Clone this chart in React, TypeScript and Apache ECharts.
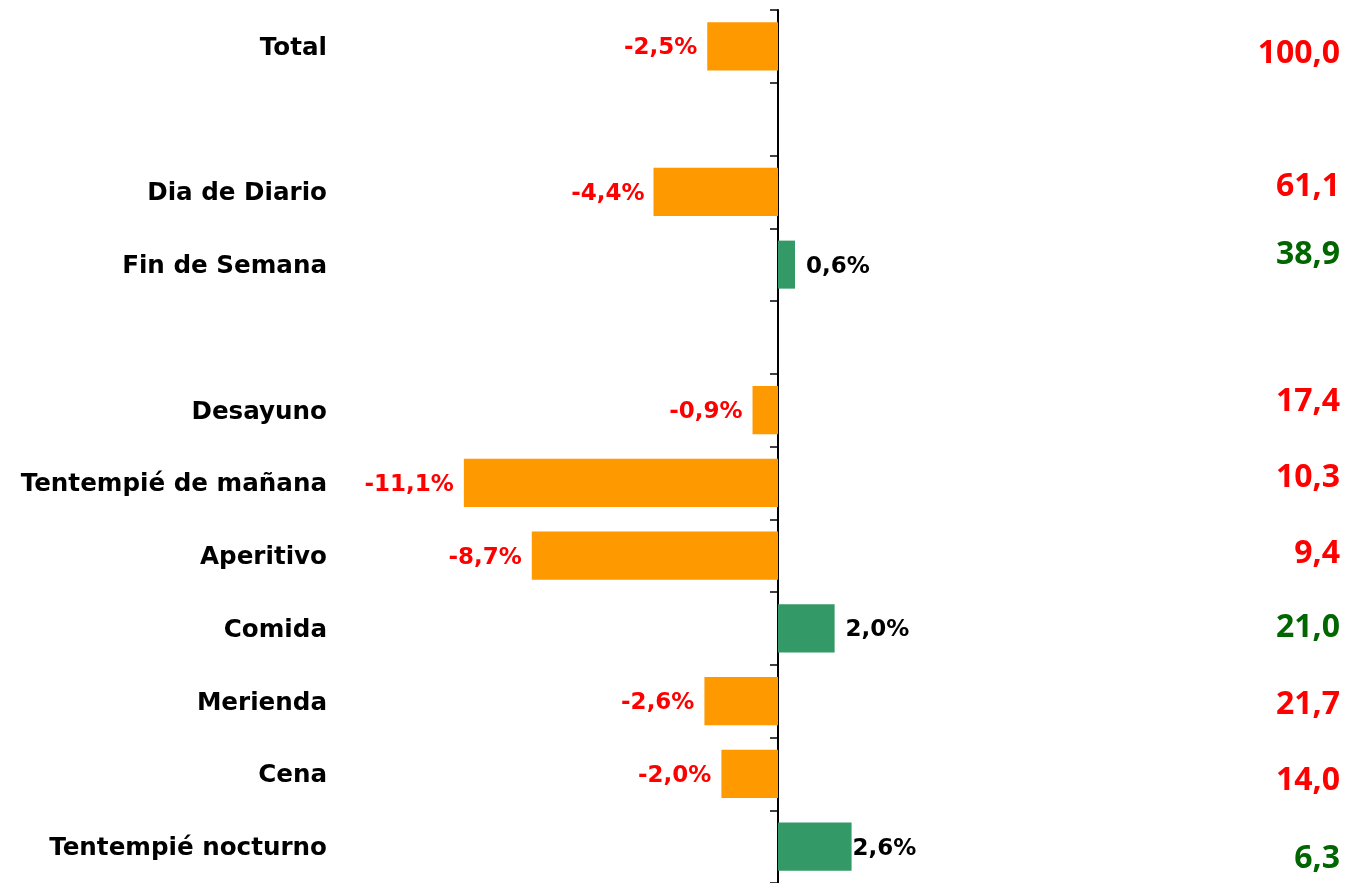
import React, { useEffect, useRef } from "react";
import * as echarts from "echarts";

const categories = [
  "Total",
  "",
  "Dia de Diario",
  "Fin de Semana",
  " ",
  "Desayuno",
  "Tentempié de mañana",
  "Aperitivo",
  "Comida",
  "Merienda",
  "Cena",
  "Tentempié nocturno",
];
const changes: (number | null)[] = [-2.5, null, -4.4, 0.6, null, -0.9, -11.1, -8.7, 2.0, -2.6, -2.0, 2.6];
const shares: (number | null)[] = [100.0, null, 61.1, 38.9, null, 17.4, 10.3, 9.4, 21.0, 21.7, 14.0, 6.3];

// vertical nudges (px) of the share labels, as placed in the original layout
const shareLabelShift = [4, 0, -8, -13, 0, -12, -8, -5, -4, 0, 4, 9];
// horizontal distance of bar labels
const barLabelDistance = [10, 0, 9, 11, 0, 10, 10, 10, 11, 10, 10, 1];

const fmt = (v: number) => v.toFixed(1).replace(".", ",");

export default function App() {
  const ref = useRef<HTMLDivElement>(null);
  useEffect(() => {
    if (!ref.current) return;
    const chart = echarts.init(ref.current, undefined, { renderer: "svg" });
    const catFont = "'DejaVu Sans', Verdana, sans-serif";
    const numFont = "'Open Sans', sans-serif";
    const rich: Record<string, any> = {};
    shares.forEach((_s, i) => {
      const c = changes[i];
      const dy = shareLabelShift[i];
      rich["s" + i] = {
        color: c !== null && c < 0 ? "#FF0000" : "#006600",
        fontFamily: numFont,
        fontWeight: "bold",
        fontSize: 32,
        padding: dy < 0 ? [0, 0, -2 * dy, 0] : [2 * dy, 0, 0, 0],
      };
    });
    chart.setOption({
      animation: false,
      grid: { left: 353.5, right: 1347 - 1202.5, top: 10, bottom: 0, containLabel: false },
      xAxis: {
        type: "value",
        min: -15,
        max: 15,
        show: false,
      },
      yAxis: [
        {
          type: "category",
          data: categories,
          inverse: true,
          axisLine: { show: true, onZero: true, lineStyle: { color: "#000", width: 2 } },
          axisTick: { show: true, inside: false, length: 8, lineStyle: { color: "#000", width: 1.5 } },
          axisLabel: { show: false },
          splitLine: { show: false },
        },
        {
          type: "category",
          data: categories,
          inverse: true,
          position: "left",
          axisLine: { show: false, onZero: false },
          axisTick: { show: false },
          axisLabel: {
            show: true,
            margin: 26.5,
            color: "#000",
            fontFamily: catFont,
            fontWeight: "bold",
            fontSize: 24.6,
          },
          splitLine: { show: false },
        },
        {
          type: "category",
          data: categories,
          inverse: true,
          position: "right",
          axisLine: { show: false, onZero: false },
          axisTick: { show: false },
          axisLabel: {
            show: true,
            align: "right",
            margin: 1340 - 1202.5,
            formatter: (_v: string, i: number) => {
              const s = shares[i];
              if (s === null || s === undefined) return "";
              return "{s" + i + "|" + fmt(s) + "}";
            },
            rich,
          },
          splitLine: { show: false },
        },
      ],
      series: [
        {
          type: "bar",
          yAxisIndex: 0,
          barWidth: "66%",
          data: changes.map((v, i) =>
            v === null
              ? "-"
              : {
                  value: v,
                  itemStyle: { color: v < 0 ? "#FF9900" : "#339966" },
                  label: {
                    show: true,
                    position: v < 0 ? "left" : "right",
                    distance: barLabelDistance[i],
                    color: v < 0 ? "#FF0000" : "#000000",
                    fontFamily: catFont,
                    fontWeight: "bold",
                    fontSize: 23,
                    formatter: () => fmt(v) + "%",
                  },
                }
          ),
        },
      ],
    });
    return () => chart.dispose();
  }, []);
  return (
    <div
      ref={ref}
      style={{ position: "fixed", left: 0, top: 0, width: 1347, height: 883 }}
    />
  );
}
